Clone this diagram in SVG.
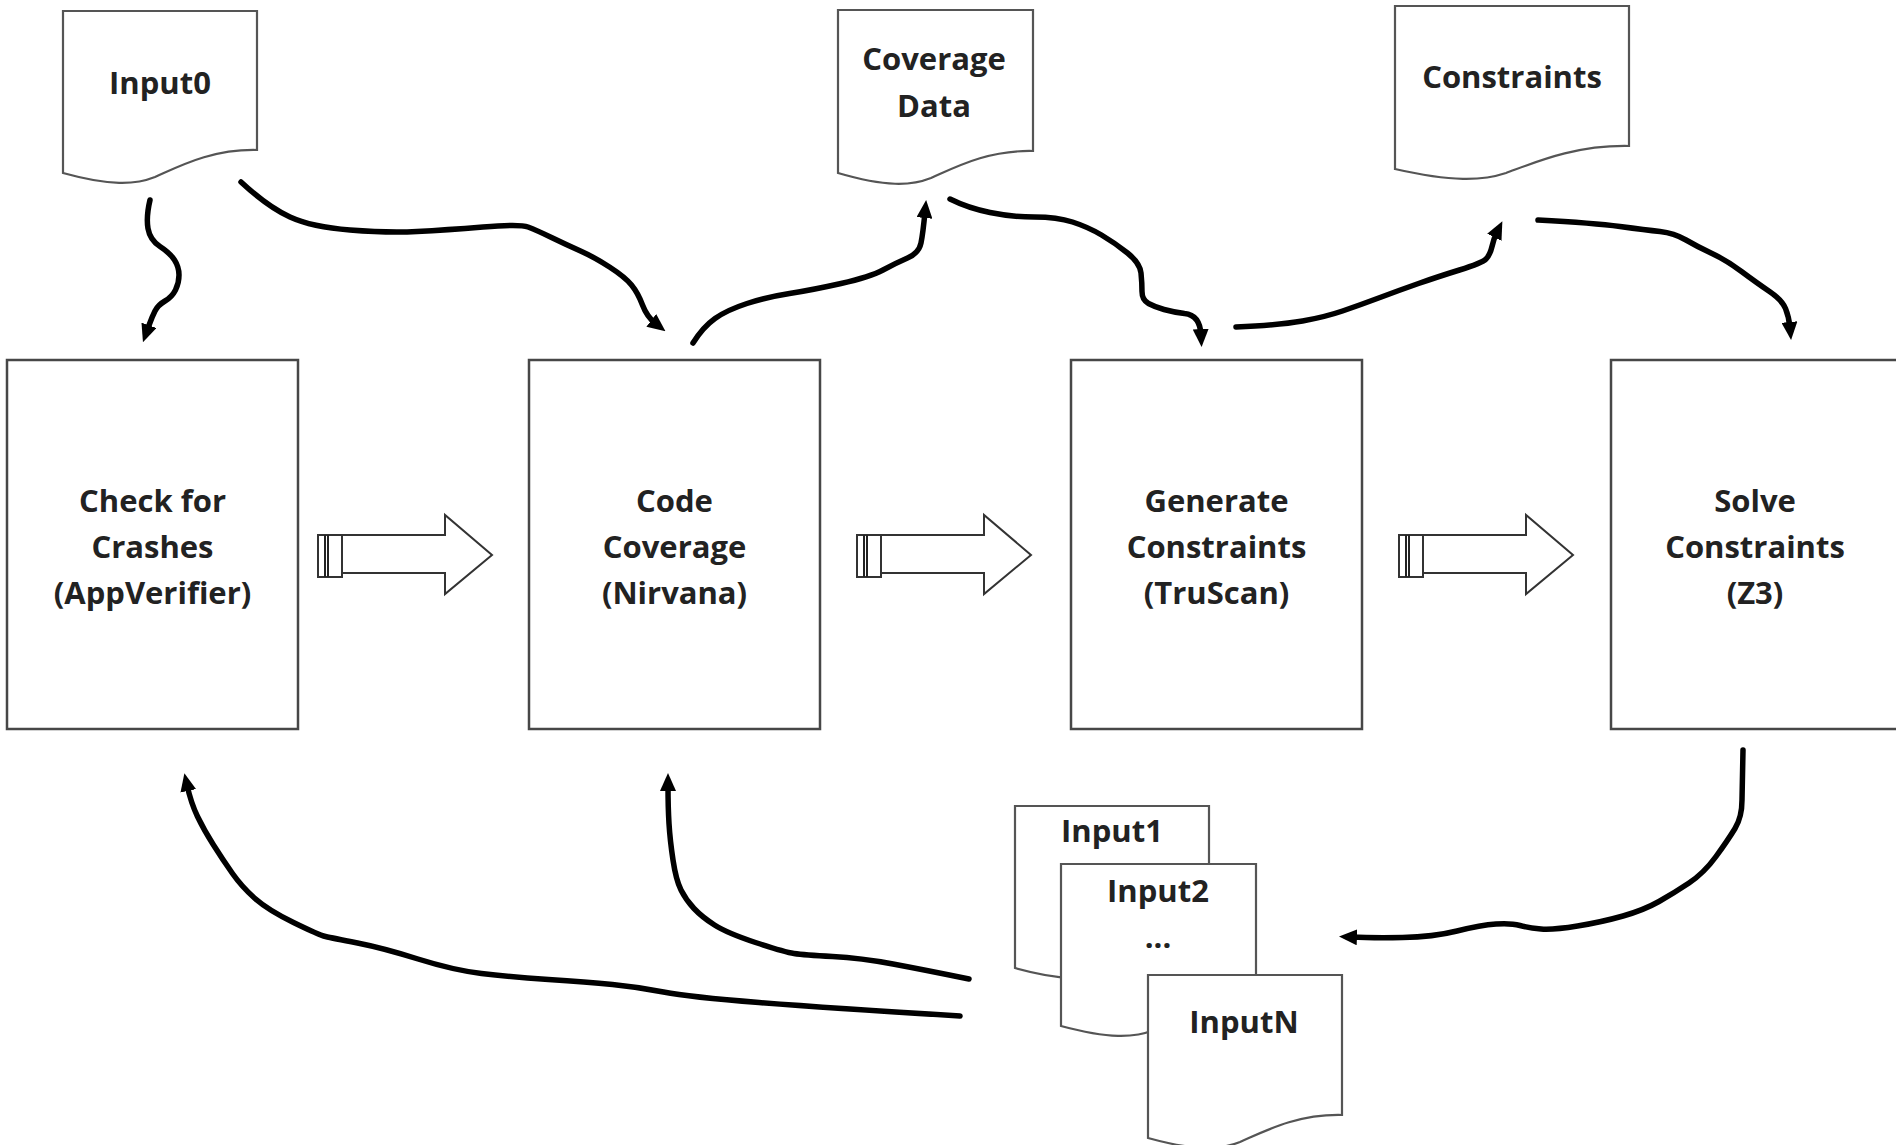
<svg xmlns="http://www.w3.org/2000/svg" xmlns:xlink="http://www.w3.org/1999/xlink" width="1896" height="1145" viewBox="0 0 1896 1145">
  <defs>
    <style>
      .box { fill: #ffffff; stroke: #474747; stroke-width: 2.5; }
      .doc { fill: #ffffff; stroke: #555555; stroke-width: 2.2; }
      .lbl { font-family: "Open Sans", "Liberation Sans", sans-serif; font-weight: 700; font-size: 31px; fill: #222222; text-anchor: middle; }
      .conn { fill: none; stroke: #000000; stroke-width: 5.5; stroke-linecap: round; stroke-linejoin: round; }
      .blk { fill: #ffffff; stroke: #333333; stroke-width: 2; stroke-linejoin: miter; }
      .stripe { stroke: #222222; stroke-width: 2; }
    </style>
    <marker id="ah" viewBox="0 0 18 16" refX="6" refY="8" markerWidth="18" markerHeight="16" markerUnits="userSpaceOnUse" orient="auto">
      <path d="M0,0 L18,8 L0,16 Z" fill="#000000"/>
    </marker>
    <g id="blockArrow">
      <path class="blk" d="M342,535 H445 V515 L492,555 L445,594 V573 H342 Z"/>
      <rect class="blk" x="318" y="535" width="24" height="42"/>
      <line class="stripe" x1="325" y1="535" x2="325" y2="577"/>
      <line class="stripe" x1="328" y1="535" x2="328" y2="577"/>
    </g>
  </defs>

  <rect x="0" y="0" width="1896" height="1145" fill="#ffffff"/>

  <!-- Process nodes -->
  <g id="node-check-crashes">
    <rect class="box" x="7" y="360" width="291" height="369"/>
    <text class="lbl" x="152.5" y="512">Check for</text>
    <text class="lbl" x="152.5" y="558">Crashes</text>
    <text class="lbl" x="152.5" y="604">(AppVerifier)</text>
  </g>
  <g id="node-code-coverage">
    <rect class="box" x="529" y="360" width="291" height="369"/>
    <text class="lbl" x="674.5" y="512">Code</text>
    <text class="lbl" x="674.5" y="558">Coverage</text>
    <text class="lbl" x="674.5" y="604">(Nirvana)</text>
  </g>
  <g id="node-generate-constraints">
    <rect class="box" x="1071" y="360" width="291" height="369"/>
    <text class="lbl" x="1216.5" y="512">Generate</text>
    <text class="lbl" x="1216.5" y="558">Constraints</text>
    <text class="lbl" x="1216.5" y="604">(TruScan)</text>
  </g>
  <g id="node-solve-constraints">
    <rect class="box" x="1611" y="360" width="300" height="369"/>
    <text class="lbl" x="1755" y="512">Solve</text>
    <text class="lbl" x="1755" y="558">Constraints</text>
    <text class="lbl" x="1755" y="604">(Z3)</text>
  </g>

  <!-- Document nodes -->
  <g id="doc-input0">
    <path class="doc" d="M63,11 h194 v139 c-45,-1 -77,16 -102,27 c-20,8 -45,9 -92,-4 z"/>
    <text class="lbl" x="160" y="94">Input0</text>
  </g>
  <g id="doc-coverage-data">
    <path class="doc" d="M838,10 h195 v141 c-45,-1 -77,16 -102,27 c-20,8 -45,9 -93,-5 z"/>
    <text class="lbl" x="934" y="70">Coverage</text>
    <text class="lbl" x="934" y="117">Data</text>
  </g>
  <g id="doc-constraints">
    <path class="doc" d="M1395,6 h234 v140 c-54,-1 -93,16 -123,27 c-24,8 -54,9 -111,-4 z"/>
    <text class="lbl" x="1512" y="88">Constraints</text>
  </g>
  <g id="doc-inputs">
    <g id="doc-input1">
      <path class="doc" d="M1015,806 h194 v139 c-45,-1 -77,16 -102,27 c-20,8 -45,9 -92,-4 z"/>
      <text class="lbl" x="1112" y="842">Input1</text>
    </g>
    <g id="doc-input2">
      <path class="doc" d="M1061,864 h195 v139 c-45,-1 -77,16 -102,27 c-20,8 -45,9 -93,-4 z"/>
      <text class="lbl" x="1158" y="902">Input2</text>
      <text class="lbl" x="1158" y="948">...</text>
    </g>
    <g id="doc-inputN">
      <path class="doc" d="M1148,975 h194 v140 c-45,-1 -77,16 -102,27 c-20,8 -45,9 -92,-4 z"/>
      <text class="lbl" x="1244" y="1033">InputN</text>
    </g>
  </g>

  <!-- Block arrows between stages -->
  <g id="block-arrows">
    <use xlink:href="#blockArrow" href="#blockArrow" x="0" y="0"/>
    <use xlink:href="#blockArrow" href="#blockArrow" x="539" y="0"/>
    <use xlink:href="#blockArrow" href="#blockArrow" x="1081" y="0"/>
  </g>

  <!-- Curved connectors -->
  <g id="connectors">
    <path class="conn" marker-end="url(#ah)" d="M150,200 Q146,217 148,228.5 Q150,240 160,246.5 Q170,253 174.5,260 Q179,267 179,275 Q179,283 175.5,290 Q172,297 165,301 Q158,305 155,311 Q152,317 149.5,324 L147,331"/>
    <path class="conn" marker-end="url(#ah)" d="M241,182 Q268,207 290,217 Q312,227 350,230 Q388,233 417,231.5 Q446,230 483,227 Q520,224 528,227 Q536,230 551.5,237.5 Q567,245 580.5,251 Q594,257 609.5,267 Q625,277 631.5,285 Q638,293 642.5,305 Q647,317 656,324"/>
    <path class="conn" marker-end="url(#ah)" d="M693,343 Q703,327 715,318.5 Q727,310 747,303.5 Q767,297 789.5,293.5 Q812,290 841,283.5 Q870,277 883,270 Q896,263 907.5,258 Q919,253 921,243 Q923,233 925,212"/>
    <path class="conn" marker-end="url(#ah)" d="M950,199 Q968,208 990,212.5 Q1012,217 1034.5,217 Q1057,217 1072.5,222 Q1088,227 1101.5,235 Q1115,243 1127.5,253 Q1140,263 1141,273 Q1142,283 1142,291.5 Q1142,300 1148.5,303.5 Q1155,307 1164,309.5 Q1173,312 1184.5,313.5 Q1200,315 1201,335"/>
    <path class="conn" marker-end="url(#ah)" d="M1236,327 Q1280,325 1302.5,321 Q1325,317 1342.5,311 Q1360,305 1380,297.5 Q1400,290 1418.5,283.5 Q1437,277 1459.5,270 Q1482,263 1486,259 Q1490,255 1492,246.5 Q1494,238 1497,232"/>
    <path class="conn" marker-end="url(#ah)" d="M1538,220 Q1594,223 1620,226.5 Q1646,230 1660,231.5 Q1674,233 1686,240 Q1698,247 1712,253.5 Q1726,260 1741.5,271.5 Q1757,283 1769.5,291.5 Q1782,300 1785.5,308.5 Q1789,317 1790,328"/>
    <path class="conn" marker-end="url(#ah)" d="M1743,750 L1742,800 Q1742,817 1735,828.5 Q1728,840 1716,856.5 Q1704,873 1689,883 Q1674,893 1659,901.5 Q1644,910 1623,916 Q1602,922 1577.5,926 Q1553,930 1541,929 Q1529,928 1520,925.5 Q1511,923 1496,924 Q1481,925 1457,931 Q1433,937 1402.5,937.5 Q1372,938 1351,937"/>
    <path class="conn" marker-end="url(#ah)" d="M969,979 Q925,970 893,964 Q861,958 832.5,956.5 Q804,955 794,953.5 Q784,952 755.5,942.5 Q727,933 714.5,925 Q702,917 694,908.5 Q686,900 681,890 Q676,880 673,860 Q670,840 669,823.5 Q668,807 668,785"/>
    <path class="conn" marker-end="url(#ah)" d="M960,1016 Q829,1008 759,1002.5 Q689,997 663.5,992 Q638,987 612.5,984.5 Q587,982 548.5,979.5 Q510,977 481.5,973.5 Q453,970 418,959 Q383,948 357.5,943 Q332,938 325.5,936.5 Q319,935 293.5,922.5 Q268,910 255,898.5 Q242,887 232.5,873.5 Q223,860 213.5,845 Q204,830 197.5,816.5 Q191,803 187,785"/>
  </g>
</svg>
